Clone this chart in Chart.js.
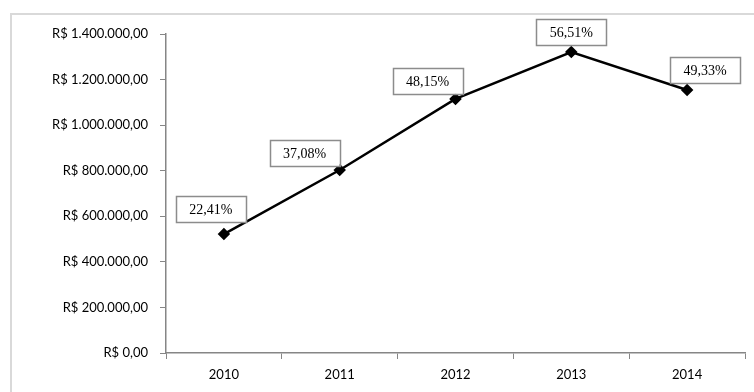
<!DOCTYPE html>
<html>
<head>
<meta charset="utf-8">
<script src="https://cdn.jsdelivr.net/npm/chart.js@4/dist/chart.umd.min.js"></script>
<style>
  html, body { margin: 0; padding: 0; background: #fff; }
  #wrap { position: relative; width: 754px; height: 392px; }
</style>
</head>
<body>
<div id="wrap"><canvas id="myChart" width="754" height="392"></canvas></div>
<script>
const anos = ['2010', '2011', '2012', '2013', '2014'];
const valores = [522000, 803000, 1115000, 1321000, 1154000];
const percentuais = ['22,41%', '37,08%', '48,15%', '56,51%', '49,33%'];
const yTicks = [0, 200000, 400000, 600000, 800000, 1000000, 1200000, 1400000];

// formata no padrao brasileiro
function moeda(v) {
  return 'R$ ' + v.toLocaleString('pt-BR', { minimumFractionDigits: 2, maximumFractionDigits: 2 });
}

// moldura cinza clara em volta do grafico
const moldura = {
  id: 'moldura',
  beforeDraw(chart) {
    const ctx = chart.ctx;
    ctx.save();
    ctx.strokeStyle = '#d9d9d9';
    ctx.lineWidth = 2;
    ctx.strokeRect(11, 14, 900, 600);
    ctx.restore();
  }
};

// caixinhas com o percentual de cada ponto
const rotulos = {
  id: 'rotulos',
  afterDatasetsDraw(chart, args, opts) {
    const ctx = chart.ctx;
    const pts = chart.getDatasetMeta(0).data;
    ctx.save();
    ctx.font = '14px "Liberation Serif"';
    ctx.textAlign = 'center';
    ctx.textBaseline = 'middle';
    pts.forEach((p, i) => {
      const cx = p.x + opts.dx[i], cy = p.y + opts.dy[i];
      const w = 70, h = 26;
      ctx.fillStyle = '#fff';
      ctx.fillRect(cx - w / 2, cy - h / 2, w, h);
      ctx.strokeStyle = '#8c8c8c';
      ctx.lineWidth = 1.5;
      ctx.strokeRect(Math.round(cx - w / 2) + 0.5, Math.round(cy - h / 2) + 0.5, w, h);
      ctx.fillStyle = '#000';
      ctx.fillText(percentuais[i], cx, cy + 1);
    });
    ctx.restore();
  }
};

const config = {
  type: 'line',
  data: {
    labels: anos,
    datasets: [{
      label: 'Valor',
      data: valores,
      borderColor: '#000',
      backgroundColor: '#000',
      borderWidth: 2.5,
      pointStyle: 'rectRot',
      pointRadius: 4.5,
      pointBackgroundColor: '#000',
      pointBorderColor: '#000',
      tension: 0
    }]
  },
  options: {
    responsive: false,
    animation: false,
    layout: { padding: { top: 34, right: 9, bottom: 0, left: 0 } },
    plugins: {
      legend: { display: false },
      tooltip: { enabled: false },
      rotulos: {
        dx: [-13, -35, -28, 0, 18],
        dy: [-25, -17, -18, -20, -20]
      }
    },
    scales: {
      x: {
        offset: true,
        grid: { offset: true, drawOnChartArea: false, tickLength: 6, color: '#868686' },
        border: { color: '#868686', width: 1.5 },
        ticks: { color: '#000', padding: 8, font: { family: 'Lato', size: 13 } },
        afterFit(s) { s.height = 39; }
      },
      y: {
        min: 0,
        max: 1400000,
        afterBuildTicks(s) { s.ticks = yTicks.map(v => ({ value: v })); },
        grid: { drawOnChartArea: false, tickLength: 6, color: '#868686' },
        border: { color: '#868686', width: 1.5 },
        ticks: {
          color: '#000',
          padding: 12,
          font: { family: 'Lato', size: 13 },
          callback: v => moeda(v)
        },
        afterFit(s) { s.width = 166; }
      }
    }
  },
  plugins: [moldura, rotulos]
};

const myChart = new Chart(document.getElementById('myChart'), config);
</script>
</body>
</html>
